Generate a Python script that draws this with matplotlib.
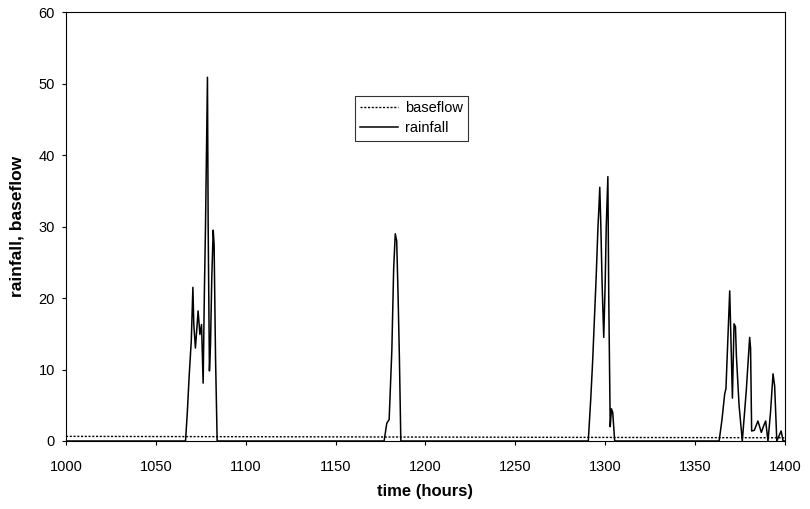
import matplotlib
matplotlib.use("Agg")
import matplotlib.pyplot as plt

# rainfall hydrograph (zero between storms)
rain_t = [1000, 1066.5, 1067.5, 1068.5, 1069.7, 1070.6, 1071.1, 1072.0, 1073.5,
          1074.5, 1075.4, 1076.3, 1077.0, 1077.6, 1078.7, 1079.1, 1079.8, 1080.4,
          1081.1, 1081.9, 1082.4, 1083.2, 1084.1,
          1177.0, 1178.5, 1179.8, 1181.3, 1182.3, 1183.2, 1184.0, 1184.8, 1185.5,
          1186.3,
          1290.6, 1292.0, 1293.0, 1294.0, 1295.0, 1296.0, 1296.4, 1297.0, 1297.6,
          1298.3, 1299.2, 1300.0, 1300.6, 1301.5, 1302.0, 1302.8, 1303.5, 1304.2,
          1305.3,
          1363.4, 1365.0, 1366.5, 1367.2, 1369.3, 1370.8, 1371.7, 1372.5, 1373.0,
          1374.5, 1376.3, 1378.5, 1380.4, 1380.9, 1381.5, 1383.0, 1385.0, 1386.9,
          1388.0, 1389.3, 1390.6, 1392.0, 1393.4, 1394.3, 1395.5, 1397.9, 1399.0,
          1400]
rain_v = [0, 0, 4, 9, 14, 21.5, 16.3, 13, 18.2,
          14.9, 16.3, 8.1, 21, 29.8, 50.9, 30, 9.8, 13.5,
          22.8, 29.5, 27.5, 11.6, 0,
          0, 2.5, 3, 12.7, 24, 29, 28, 20, 11.7,
          0,
          0, 6, 11, 17, 23, 30, 32, 35.5, 30,
          22, 14.5, 22, 30, 37, 20, 2, 4.5, 4,
          0,
          0, 3, 6.6, 7.3, 21, 6, 16.4, 16, 12,
          5, 0, 7, 14.5, 13, 1.4, 1.5, 2.8, 1.2,
          2, 2.8, 0, 4, 9.4, 7.7, 0, 1.4, 0,
          0]

base_t = [1000, 1100, 1200, 1300, 1400]
base_v = [0.65, 0.6, 0.55, 0.5, 0.45]

plt.rcParams["font.family"] = ["Liberation Sans", "DejaVu Sans"]

fig = plt.figure(figsize=(8.1, 5.09), dpi=100)
ax = fig.add_axes([0.0815, 0.1336, 0.8875, 0.8424])

ax.plot(base_t, base_v, color="black", lw=1.0, ls=(0, (1.5, 1.2)), label="baseflow")
ax.plot(rain_t, rain_v, color="black", lw=1.1, label="rainfall")

ax.set_xlim(1000, 1400)
ax.set_ylim(0, 60)
ax.set_xticks(range(1000, 1401, 50))
ax.set_yticks(range(0, 61, 10))
ax.tick_params(direction="out", length=3, width=0.8, labelsize=10.5)
ax.tick_params(axis="x", pad=11)
ax.tick_params(axis="y", pad=5)
for s in ax.spines.values():
    s.set_linewidth(0.8)

ax.set_xlabel("time (hours)", fontsize=12, fontweight="bold", labelpad=7)
ax.set_ylabel("rainfall, baseflow", fontsize=12.5, fontweight="bold", labelpad=10)

leg = ax.legend(loc="upper left", bbox_to_anchor=(0.402, 0.805), frameon=True,
                fancybox=False, edgecolor="black", fontsize=10.5,
                handlelength=2.6, handletextpad=0.5, borderpad=0.35,
                labelspacing=0.45, borderaxespad=0)
leg.get_frame().set_linewidth(0.8)

fig.savefig("out.png", dpi=100)
